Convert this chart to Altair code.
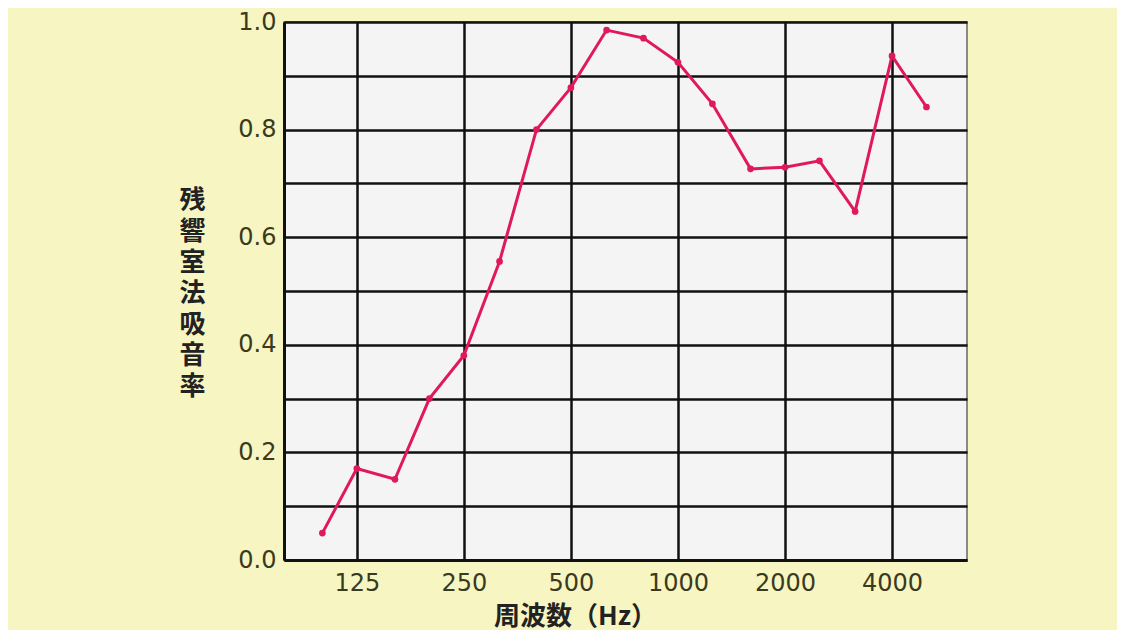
import altair as alt
import pandas as pd

# 1/3 octave band centre frequencies (Hz) and absorption coefficients
freq = [100, 125, 160, 200, 250, 315, 400, 500, 630, 800,
        1000, 1250, 1600, 2000, 2500, 3150, 4000, 5000]
alpha = [0.05, 0.17, 0.15, 0.30, 0.38, 0.555, 0.80, 0.878, 0.985, 0.97,
         0.925, 0.848, 0.727, 0.73, 0.742, 0.648, 0.937, 0.842]

x_ticks = [125, 250, 500, 1000, 2000, 4000]
y_ticks = [0.0, 0.1, 0.2, 0.3, 0.4, 0.5, 0.6, 0.7, 0.8, 0.9, 1.0]

df = pd.DataFrame({"freq": freq, "alpha": alpha})

ink = "#3a3a1e"
pink = "#e0185c"

x = alt.X("freq:Q",
          scale=alt.Scale(type="log", domain=[78, 6500], nice=False),
          axis=alt.Axis(values=x_ticks, format="d", title="周波数（Hz）",
                        titleFont="Noto Sans CJK JP", titleFontSize=26, titleFontWeight="bold",
                        titleColor="#222", titleAnchor="start", titleAlign="center",
                        titleBaseline="alphabetic", titleX=291, titleY=64,
                        labelFont="DejaVu Sans", labelFontSize=24, labelColor=ink,
                        labelPadding=11, ticks=False, domain=True, domainColor="#111",
                        domainWidth=3, grid=True, gridColor="#111", gridWidth=2.5,
                        labelOverlap=False))

y = alt.Y("alpha:Q",
          scale=alt.Scale(domain=[0, 1], nice=False),
          axis=alt.Axis(values=y_ticks, title=list("残響室法吸音率"),
                        labelExpr="round(datum.value * 10) % 2 == 0 ? format(datum.value, '.1f') : ''",
                        titleFont="Noto Sans CJK JP", titleFontSize=26, titleFontWeight="bold",
                        titleColor="#222", titleAngle=0, titleAlign="center",
                        titleBaseline="top", titleX=-92, titleY=165, titleLineHeight=31,
                        labelFont="DejaVu Sans", labelFontSize=24, labelColor=ink,
                        labelPadding=8, ticks=False, domain=True, domainColor="#111",
                        domainWidth=3, grid=True, gridColor="#111", gridWidth=2.5,
                        labelOverlap=False))

line = alt.Chart(df).mark_line(color=pink, strokeWidth=3).encode(x=x, y=y)
pts = alt.Chart(df).mark_point(filled=True, color=pink, size=45, opacity=1).encode(x=x, y=y)

chart = (line + pts).properties(
    width=683, height=538,
    autosize=alt.AutoSizeParams(type="none"),
    padding={"left": 276, "top": 14, "right": 150, "bottom": 70},
    background="#f7f5c2",
).configure_view(fill="#f4f4f4", stroke="#666", strokeWidth=1.5)

chart.save("out.html", embed_options={"renderer": "svg", "actions": False})
